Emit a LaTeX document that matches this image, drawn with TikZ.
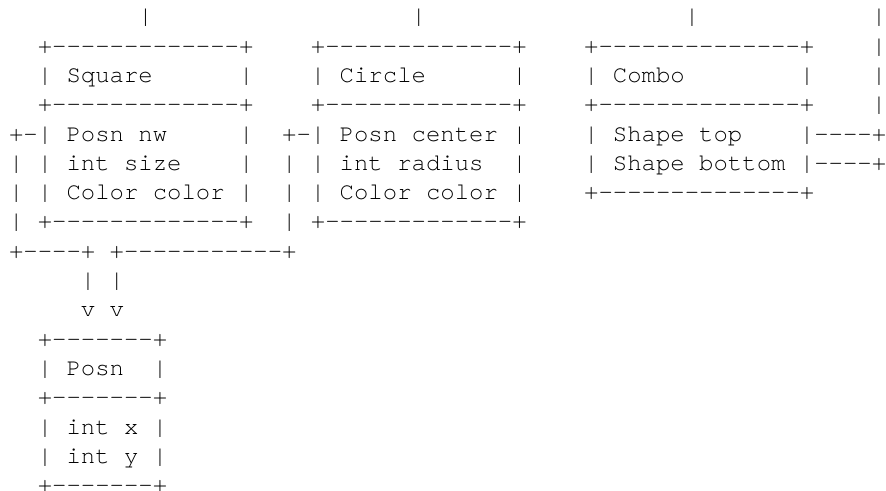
\documentclass[tikz,border=0pt]{standalone}
\usepackage{fontspec}
\setmonofont{texgyrecursor-regular.otf}
\begin{document}
\begin{tikzpicture}[x=0.75pt,y=-0.75pt,
  asciirow/.style={anchor=base west, inner sep=0pt, outer sep=0pt, text=black,
    font=\ttfamily\fontsize{17.975pt}{20pt}\selectfont}]
\fill[white] (0,0) rectangle (886,491);
\useasboundingbox (0,0) rectangle (886,491);
\def\lx{9}
\node[asciirow] (r0)  at (\lx,23.9)  {~~~~~~~~~|~~~~~~~~~~~~~~~~~~|~~~~~~~~~~~~~~~~~~|~~~~~~~~~~~~|};
\node[asciirow] (r1)  at (\lx,53.2)  {~~+-------------+~~~~+-------------+~~~~+--------------+~~~~|};
\node[asciirow] (r2)  at (\lx,82.5)  {~~|~Square~~~~~~|~~~~|~Circle~~~~~~|~~~~|~Combo~~~~~~~~|~~~~|};
\node[asciirow] (r3)  at (\lx,111.8) {~~+-------------+~~~~+-------------+~~~~+--------------+~~~~|};
\node[asciirow] (r4)  at (\lx,141.1) {+-|~Posn~nw~~~~~|~~+-|~Posn~center~|~~~~|~Shape~top~~~~|----+};
\node[asciirow] (r5)  at (\lx,170.4) {|~|~int~size~~~~|~~|~|~int~radius~~|~~~~|~Shape~bottom~|----+};
\node[asciirow] (r6)  at (\lx,199.7) {|~|~Color~color~|~~|~|~Color~color~|~~~~+--------------+};
\node[asciirow] (r7)  at (\lx,229.0) {|~+-------------+~~|~+-------------+};
\node[asciirow] (r8)  at (\lx,258.3) {+----+~+-----------+};
\node[asciirow] (r9)  at (\lx,287.6) {~~~~~|~|};
\node[asciirow] (r10) at (\lx,316.9) {~~~~~v~v};
\node[asciirow] (r11) at (\lx,346.2) {~~+-------+};
\node[asciirow] (r12) at (\lx,375.5) {~~|~Posn~~|};
\node[asciirow] (r13) at (\lx,404.8) {~~+-------+};
\node[asciirow] (r14) at (\lx,434.1) {~~|~int~x~|};
\node[asciirow] (r15) at (\lx,463.4) {~~|~int~y~|};
\node[asciirow] (r16) at (\lx,492.7) {~~+-------+};
\end{tikzpicture}
\end{document}
